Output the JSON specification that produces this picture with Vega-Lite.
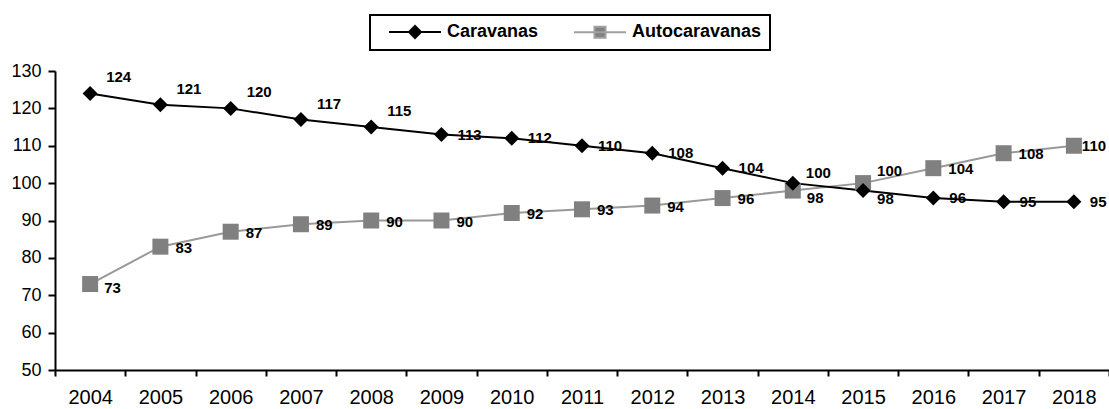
{
  "$schema": "https://vega.github.io/schema/vega-lite/v6.json",
  "width": 1054,
  "height": 299,
  "autosize": {"type": "none"},
  "padding": {"left": 55, "top": 71, "right": 0, "bottom": 39},
  "config": {
    "view": {"stroke": null},
    "font": "Liberation Sans",
    "legend": {
      "orient": "none",
      "legendX": 315,
      "legendY": -56,
      "direction": "horizontal",
      "strokeColor": "#000000",
      "strokeWidth": 2,
      "padding": 8,
      "columnPadding": 24,
      "symbolSize": 100,
      "symbolStrokeWidth": 2,
      "symbolOpacity": 1,
      "symbolOffset": 28,
      "labelOffset": 23,
      "labelFontSize": 18,
      "labelFontWeight": "bold",
      "labelColor": "#000000"
    }
  },
  "data": {
    "values": [
      {"year": "2004", "series": "Caravanas", "value": 124},
      {"year": "2005", "series": "Caravanas", "value": 121},
      {"year": "2006", "series": "Caravanas", "value": 120},
      {"year": "2007", "series": "Caravanas", "value": 117},
      {"year": "2008", "series": "Caravanas", "value": 115},
      {"year": "2009", "series": "Caravanas", "value": 113},
      {"year": "2010", "series": "Caravanas", "value": 112},
      {"year": "2011", "series": "Caravanas", "value": 110},
      {"year": "2012", "series": "Caravanas", "value": 108},
      {"year": "2013", "series": "Caravanas", "value": 104},
      {"year": "2014", "series": "Caravanas", "value": 100},
      {"year": "2015", "series": "Caravanas", "value": 98},
      {"year": "2016", "series": "Caravanas", "value": 96},
      {"year": "2017", "series": "Caravanas", "value": 95},
      {"year": "2018", "series": "Caravanas", "value": 95},
      {"year": "2004", "series": "Autocaravanas", "value": 73},
      {"year": "2005", "series": "Autocaravanas", "value": 83},
      {"year": "2006", "series": "Autocaravanas", "value": 87},
      {"year": "2007", "series": "Autocaravanas", "value": 89},
      {"year": "2008", "series": "Autocaravanas", "value": 90},
      {"year": "2009", "series": "Autocaravanas", "value": 90},
      {"year": "2010", "series": "Autocaravanas", "value": 92},
      {"year": "2011", "series": "Autocaravanas", "value": 93},
      {"year": "2012", "series": "Autocaravanas", "value": 94},
      {"year": "2013", "series": "Autocaravanas", "value": 96},
      {"year": "2014", "series": "Autocaravanas", "value": 98},
      {"year": "2015", "series": "Autocaravanas", "value": 100},
      {"year": "2016", "series": "Autocaravanas", "value": 104},
      {"year": "2017", "series": "Autocaravanas", "value": 108},
      {"year": "2018", "series": "Autocaravanas", "value": 110}
    ]
  },
  "encoding": {
    "x": {
      "field": "year",
      "type": "ordinal",
      "bandPosition": 0.5,
      "scale": {"type": "band", "paddingInner": 0, "paddingOuter": 0},
      "axis": {
        "title": null,
        "labelAngle": 0,
        "tickBand": "extent",
        "domainColor": "#000000",
        "domainWidth": 2,
        "tickColor": "#000000",
        "tickWidth": 2,
        "tickSize": 6,
        "labelFontSize": 20,
        "labelColor": "#000000",
        "labelPadding": 11,
        "grid": false
      }
    },
    "y": {
      "field": "value",
      "type": "quantitative",
      "scale": {"domain": [50, 130], "nice": false, "zero": false},
      "axis": {
        "title": null,
        "values": [50, 60, 70, 80, 90, 100, 110, 120, 130],
        "domainColor": "#000000",
        "domainWidth": 2,
        "tickColor": "#000000",
        "tickWidth": 2,
        "tickSize": 7,
        "labelFontSize": 18,
        "labelColor": "#000000",
        "labelPadding": 7,
        "grid": false
      }
    }
  },
  "layer": [
    {
      "transform": [{"filter": {"field": "series", "equal": "Autocaravanas"}}],
      "mark": {"type": "line", "color": "#999999", "strokeWidth": 2}
    },
    {
      "transform": [{"filter": {"field": "series", "equal": "Caravanas"}}],
      "mark": {"type": "line", "color": "#000000", "strokeWidth": 2}
    },
    {
      "transform": [{"filter": {"field": "series", "equal": "Autocaravanas"}}],
      "mark": {"type": "point", "shape": "square", "filled": true, "color": "#808080", "opacity": 1, "size": 256}
    },
    {
      "transform": [{"filter": {"field": "series", "equal": "Caravanas"}}],
      "mark": {"type": "point", "shape": "diamond", "filled": true, "color": "#000000", "opacity": 1, "size": 225}
    },
    {
      "transform": [{"filter": {"and": [{"field": "series", "equal": "Caravanas"}, {"field": "year", "oneOf": ["2004", "2005", "2006", "2007", "2008"]}]}}],
      "mark": {"type": "text", "align": "left", "baseline": "middle", "fontWeight": "bold", "fontSize": 15, "color": "#000000", "dx": 16, "dy": -16},
      "encoding": {"text": {"field": "value", "type": "quantitative"}}
    },
    {
      "transform": [{"filter": {"and": [{"field": "series", "equal": "Caravanas"}, {"field": "year", "equal": "2014"}]}}],
      "mark": {"type": "text", "align": "left", "baseline": "middle", "fontWeight": "bold", "fontSize": 15, "color": "#000000", "dx": 13, "dy": -10},
      "encoding": {"text": {"field": "value", "type": "quantitative"}}
    },
    {
      "transform": [{"filter": {"and": [{"field": "series", "equal": "Caravanas"}, {"field": "year", "equal": "2015"}]}}],
      "mark": {"type": "text", "align": "left", "baseline": "middle", "fontWeight": "bold", "fontSize": 15, "color": "#000000", "dx": 14, "dy": 8},
      "encoding": {"text": {"field": "value", "type": "quantitative"}}
    },
    {
      "transform": [{"filter": {"and": [{"field": "series", "equal": "Caravanas"}, {"field": "year", "oneOf": ["2009", "2010", "2011", "2012", "2013", "2016", "2017", "2018"]}]}}],
      "mark": {"type": "text", "align": "left", "baseline": "middle", "fontWeight": "bold", "fontSize": 15, "color": "#000000", "dx": 16, "dy": 0},
      "encoding": {"text": {"field": "value", "type": "quantitative"}}
    },
    {
      "transform": [{"filter": {"and": [{"field": "series", "equal": "Autocaravanas"}, {"field": "year", "equal": "2004"}]}}],
      "mark": {"type": "text", "align": "left", "baseline": "middle", "fontWeight": "bold", "fontSize": 15, "color": "#000000", "dx": 14, "dy": 4},
      "encoding": {"text": {"field": "value", "type": "quantitative"}}
    },
    {
      "transform": [{"filter": {"and": [{"field": "series", "equal": "Autocaravanas"}, {"field": "year", "equal": "2014"}]}}],
      "mark": {"type": "text", "align": "left", "baseline": "middle", "fontWeight": "bold", "fontSize": 15, "color": "#000000", "dx": 14, "dy": 7},
      "encoding": {"text": {"field": "value", "type": "quantitative"}}
    },
    {
      "transform": [{"filter": {"and": [{"field": "series", "equal": "Autocaravanas"}, {"field": "year", "equal": "2015"}]}}],
      "mark": {"type": "text", "align": "left", "baseline": "middle", "fontWeight": "bold", "fontSize": 15, "color": "#000000", "dx": 14, "dy": -12},
      "encoding": {"text": {"field": "value", "type": "quantitative"}}
    },
    {
      "transform": [{"filter": {"and": [{"field": "series", "equal": "Autocaravanas"}, {"field": "year", "equal": "2018"}]}}],
      "mark": {"type": "text", "align": "left", "baseline": "middle", "fontWeight": "bold", "fontSize": 15, "color": "#000000", "dx": 8, "dy": 0},
      "encoding": {"text": {"field": "value", "type": "quantitative"}}
    },
    {
      "transform": [{"filter": {"and": [{"field": "series", "equal": "Autocaravanas"}, {"field": "year", "oneOf": ["2005", "2006", "2007", "2008", "2009", "2010", "2011", "2012", "2013", "2016", "2017"]}]}}],
      "mark": {"type": "text", "align": "left", "baseline": "middle", "fontWeight": "bold", "fontSize": 15, "color": "#000000", "dx": 15, "dy": 1},
      "encoding": {"text": {"field": "value", "type": "quantitative"}}
    },
    {
      "mark": {"type": "point", "filled": true, "opacity": 0, "size": 100, "strokeWidth": 2},
      "encoding": {
        "shape": {
          "field": "series",
          "type": "nominal",
          "scale": {
            "domain": ["Caravanas", "Autocaravanas"],
            "range": [
              "M-5.2,0L5.2,0M-1.2,0L0,-1.2L1.2,0L0,1.2Z",
              "M-5.2,0L5.2,0M-1.1,-1.1L1.1,-1.1L1.1,1.1L-1.1,1.1Z"
            ]
          },
          "legend": {"title": null}
        },
        "fill": {
          "field": "series",
          "type": "nominal",
          "scale": {"domain": ["Caravanas", "Autocaravanas"], "range": ["#000000", "#808080"]},
          "legend": {"title": null}
        },
        "stroke": {
          "field": "series",
          "type": "nominal",
          "scale": {"domain": ["Caravanas", "Autocaravanas"], "range": ["#000000", "#a0a0a0"]},
          "legend": {"title": null}
        }
      }
    }
  ]
}
